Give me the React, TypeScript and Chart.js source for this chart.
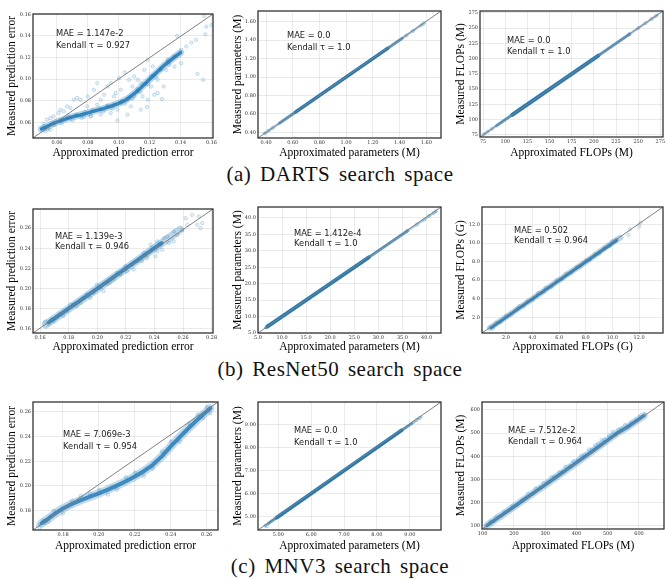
import React, { useEffect, useRef } from "react";
import { Chart, registerables } from "chart.js";

Chart.register(...registerables);

type Pt = [number, number];

// ---------------- (a) DARTS search space ----------------
const dartsErrXRange: Pt = [0.0445, 0.161];
const dartsErrYRange: Pt = [0.0455, 0.1603];
const dartsErrTicks = [0.06, 0.08, 0.1, 0.12, 0.14, 0.16];
const dartsErrBand: Pt[] = [
  [0.05, 0.0538], [0.053, 0.0556], [0.056, 0.0578], [0.06, 0.0603], [0.065, 0.0628],
  [0.07, 0.065], [0.075, 0.0668], [0.08, 0.0688], [0.085, 0.0708], [0.09, 0.0727],
  [0.095, 0.075], [0.1, 0.0776], [0.105, 0.0812], [0.11, 0.0865], [0.115, 0.093],
  [0.12, 0.0998], [0.125, 0.1068], [0.13, 0.1135], [0.135, 0.1192], [0.14, 0.1245],
];
const dartsErrScatter: Pt[] = [
  [0.1552, 0.1585], [0.16, 0.15], [0.156, 0.1415], [0.15, 0.1363], [0.147, 0.1338], [0.1378, 0.14],
  [0.1404, 0.1148], [0.1509, 0.1049], [0.1546, 0.0994], [0.1567, 0.1486], [0.1317, 0.1178],
  [0.1357, 0.1209], [0.1307, 0.1086], [0.1291, 0.0932], [0.128, 0.0815], [0.1252, 0.0994],
  [0.122, 0.1117], [0.1187, 0.1178], [0.1165, 0.1086], [0.1143, 0.0963], [0.1039, 0.1062],
  [0.11, 0.1025], [0.1089, 0.0932], [0.1122, 0.0886], [0.1183, 0.0742], [0.1143, 0.0717],
  [0.1057, 0.0671], [0.0991, 0.0618], [0.0948, 0.0963], [0.1013, 0.0902], [0.097, 0.084],
  [0.0904, 0.0855], [0.0883, 0.0809], [0.0839, 0.0902], [0.08, 0.084], [0.0752, 0.0809],
  [0.0709, 0.0809], [0.073, 0.0825], [0.0665, 0.0748], [0.0622, 0.0717], [0.0611, 0.0686],
  [0.0578, 0.0655], [0.0557, 0.064], [0.0535, 0.0625], [0.0513, 0.0588], [0.0502, 0.0548],
  [0.0524, 0.0517], [0.0557, 0.0532], [0.0665, 0.064], [0.073, 0.0671], [0.0796, 0.0748],
  [0.0861, 0.0763], [0.0926, 0.0748], [0.0948, 0.0686], [0.0883, 0.0671], [0.0817, 0.0655],
  [0.0774, 0.0649], [0.1013, 0.0778], [0.1057, 0.0809], [0.11, 0.084], [0.1122, 0.0994],
  [0.1209, 0.0932], [0.123, 0.0855], [0.1252, 0.0871], [0.1209, 0.1025], [0.1274, 0.1086],
  [0.1328, 0.1132], [0.1361, 0.1117], [0.1404, 0.1271], [0.1437, 0.1302], [0.098, 0.0871],
  [0.0926, 0.0932], [0.0861, 0.0963], [0.1002, 0.1009], [0.1067, 0.0994], [0.1154, 0.084],
  [0.1187, 0.0809], [0.1078, 0.0748], [0.0991, 0.0717], [0.0643, 0.0702], [0.0687, 0.0732],
  [0.0589, 0.0609], [0.0546, 0.0569], [0.0567, 0.0594], [0.052, 0.0565], [0.054, 0.0535],
  [0.058, 0.0575], [0.062, 0.0625], [0.068, 0.0655], [0.072, 0.0665], [0.078, 0.0695],
  [0.083, 0.0715], [0.088, 0.0725], [0.093, 0.0755], [0.097, 0.0765], [0.102, 0.0795],
  [0.107, 0.0825], [0.112, 0.0905], [0.117, 0.0955], [0.122, 0.1035], [0.127, 0.1095],
  [0.132, 0.1165], [0.137, 0.1215], [0.063, 0.059], [0.07, 0.062], [0.076, 0.064],
  [0.082, 0.066], [0.09, 0.07], [0.096, 0.0725], [0.104, 0.077], [0.109, 0.082],
  [0.114, 0.088], [0.119, 0.095], [0.124, 0.102],
];

const dartsParamXRange: Pt = [0.34, 1.71];
const dartsParamYRange: Pt = [0.34, 1.715];
const dartsParamTicks = [0.4, 0.6, 0.8, 1.0, 1.2, 1.4, 1.6];
const dartsParamLight: Pt[] = [[0.39, 0.39], [1.585, 1.585]];
const dartsParamMid: Pt[] = [[0.5, 0.5], [1.42, 1.42]];
const dartsParamDark: Pt[] = [[0.62, 0.62], [1.31, 1.31]];
const dartsParamScatter: Pt[] = [
  [0.39, 0.39], [0.42, 0.42], [0.45, 0.45], [1.45, 1.45], [1.5, 1.5], [1.56, 1.56], [1.58, 1.58],
];

const dartsFlopsRange: Pt = [71.5, 278];
const dartsFlopsTicks = [75, 100, 125, 150, 175, 200, 225, 250, 275];
const dartsFlopsLight: Pt[] = [[76, 76], [272, 272]];
const dartsFlopsMid: Pt[] = [[90, 90], [240, 240]];
const dartsFlopsDark: Pt[] = [[108, 108], [205, 205]];
const dartsFlopsScatter: Pt[] = [
  [76, 76], [80, 80], [85, 85], [240, 240], [250, 250], [258, 258], [265, 265], [270, 270],
];

// ---------------- (b) ResNet50 search space ----------------
const resErrXRange: Pt = [0.155, 0.281];
const resErrYRange: Pt = [0.156, 0.279];
const resErrXTicks = [0.16, 0.18, 0.2, 0.22, 0.24, 0.26, 0.28];
const resErrYTicks = [0.16, 0.18, 0.2, 0.22, 0.24, 0.26];
const resErrHalo: Pt[] = [
  [0.164, 0.1645], [0.17, 0.1702], [0.18, 0.18], [0.19, 0.19], [0.2, 0.2], [0.21, 0.2098],
  [0.22, 0.2198], [0.23, 0.23], [0.24, 0.2402], [0.25, 0.25], [0.258, 0.2585],
];
const resErrCore: Pt[] = [[0.166, 0.1665], [0.2, 0.2], [0.245, 0.2452]];
const resErrScatter: Pt[] = [
  [0.2664, 0.2732], [0.2711, 0.2715], [0.27, 0.2633], [0.2723, 0.26], [0.2735, 0.2649],
  [0.263, 0.2633], [0.2618, 0.2699], [0.2559, 0.2534], [0.2594, 0.2584], [0.2536, 0.2468],
  [0.2501, 0.2452], [0.2466, 0.2501], [0.2442, 0.2436], [0.2419, 0.237], [0.2384, 0.2403],
  [0.2349, 0.2304], [0.2325, 0.2353], [0.2278, 0.2271], [0.2243, 0.2239], [0.2208, 0.2172],
  [0.2161, 0.214], [0.2115, 0.209], [0.2068, 0.2047], [0.2021, 0.2008], [0.1974, 0.1959],
  [0.1927, 0.1942], [0.1881, 0.186], [0.1834, 0.1843], [0.1787, 0.1778], [0.174, 0.1745],
  [0.1694, 0.1679], [0.1658, 0.1646], [0.1635, 0.1672], [0.2536, 0.2567], [0.2489, 0.2518],
  [0.2419, 0.2469], [0.2372, 0.2436], [0.2454, 0.2386], [0.2407, 0.232], [0.2313, 0.2271],
  [0.2255, 0.2189], [0.2196, 0.2222], [0.2138, 0.2156], [0.2091, 0.2057], [0.2044, 0.1975],
  [0.1997, 0.2041], [0.1951, 0.1909], [0.1904, 0.1909], [0.1857, 0.1827], [0.181, 0.1843],
  [0.1764, 0.1728], [0.1717, 0.1712], [0.1682, 0.1695],
];

const resParamXRange: Pt = [5, 43];
const resParamYRange: Pt = [5, 43.3];
const resParamTicks = [5, 10, 15, 20, 25, 30, 35, 40];
const resParamLight: Pt[] = [[6.5, 6.5], [42, 42]];
const resParamMid: Pt[] = [[6.7, 6.7], [36, 36]];
const resParamDark: Pt[] = [[7, 7], [28, 28]];
const resParamScatter: Pt[] = [
  [6.8, 6.7], [7, 7.2], [8, 8], [36, 36.1], [38, 38], [39.5, 39.4], [40.5, 40.6], [41.5, 41.5], [42, 42.1],
];

const resFlopsXRange: Pt = [0.2, 13.8];
const resFlopsYRange: Pt = [0.3, 13.9];
const resFlopsTicks = [2, 4, 6, 8, 10, 12];
const resFlopsHalo: Pt[] = [
  [0.8, 0.85], [2, 2.02], [4, 4.0], [6, 6.02], [8, 8.0], [10, 10.05], [10.6, 10.6],
];
const resFlopsCore: Pt[] = [[0.9, 0.9], [3, 3.0], [6, 6.0], [9, 9.0], [10.3, 10.3]];
const resFlopsScatter: Pt[] = [
  [0.8, 0.9], [1.0, 0.8], [1.3, 1.4], [1.6, 1.5], [2.0, 2.1], [2.4, 2.3], [2.8, 2.9], [3.0, 3.2],
  [3.3, 3.2], [3.6, 3.7], [4.0, 3.9], [4.4, 4.6], [4.8, 4.7], [5.0, 5.2], [5.4, 5.3], [5.8, 6.0],
  [6.2, 6.1], [6.5, 6.7], [6.9, 6.8], [7.3, 7.4], [7.6, 7.5], [8.0, 8.1], [8.3, 8.2], [8.7, 8.8],
  [9.0, 8.9], [9.4, 9.5], [9.8, 9.7], [10.0, 10.2], [10.3, 10.4], [11.2, 10.9], [12.0, 11.8],
  [12.1, 12.2], [11.3, 11.5],
];

// ---------------- (c) MNV3 search space ----------------
const mnvErrXRange: Pt = [0.1633, 0.2663];
const mnvErrYRange: Pt = [0.1643, 0.2681];
const mnvErrTicks = [0.18, 0.2, 0.22, 0.24, 0.26];
const mnvErrBand: Pt[] = [
  [0.168, 0.1697], [0.171, 0.1726], [0.175, 0.177], [0.18, 0.1818], [0.185, 0.1855],
  [0.19, 0.1885], [0.195, 0.1913], [0.2, 0.194], [0.205, 0.197], [0.21, 0.2003],
  [0.215, 0.2038], [0.22, 0.2077], [0.225, 0.212], [0.23, 0.2172], [0.235, 0.224],
  [0.24, 0.2321], [0.245, 0.2397], [0.25, 0.247], [0.255, 0.254], [0.26, 0.2605], [0.262, 0.263],
];
const mnvErrScatter: Pt[] = [
  [0.166, 0.168], [0.167, 0.166], [0.169, 0.172], [0.172, 0.171], [0.19, 0.192], [0.2, 0.197],
  [0.21, 0.197], [0.22, 0.211], [0.23, 0.214], [0.24, 0.236], [0.25, 0.251], [0.255, 0.258],
  [0.26, 0.264], [0.262, 0.259], [0.258, 0.255], [0.245, 0.236], [0.235, 0.228], [0.225, 0.208],
  [0.215, 0.207], [0.205, 0.193], [0.195, 0.194], [0.185, 0.188], [0.18, 0.178], [0.175, 0.18],
  [0.173, 0.175], [0.17, 0.17],
];

const mnvParamXRange: Pt = [4.38, 9.95];
const mnvParamYRange: Pt = [4.43, 9.99];
const mnvParamTicks = [5, 6, 7, 8, 9];
const mnvParamLight: Pt[] = [[4.6, 4.62], [9.35, 9.35]];
const mnvParamMid: Pt[] = [[4.7, 4.72], [9.05, 9.05]];
const mnvParamDark: Pt[] = [[4.95, 4.97], [8.75, 8.76]];
const mnvParamScatter: Pt[] = [[4.6, 4.62], [4.65, 4.6], [9.1, 9.1], [9.2, 9.2], [9.3, 9.3]];

const mnvFlopsXRange: Pt = [98, 680];
const mnvFlopsYRange: Pt = [87, 634];
const mnvFlopsTicks = [100, 200, 300, 400, 500, 600];
const mnvFlopsBand: Pt[] = [
  [115, 103], [150, 136], [200, 183], [250, 230], [300, 277], [350, 325], [400, 373],
  [450, 421], [500, 470], [530, 500], [560, 523], [600, 560], [615, 574],
];
const mnvFlopsScatter: Pt[] = [
  [110, 98], [125, 118], [135, 121], [145, 140], [160, 145], [170, 160], [185, 168], [195, 185],
  [210, 190], [225, 210], [235, 218], [245, 238], [260, 240], [270, 262], [285, 265], [295, 285],
  [310, 290], [320, 310], [330, 312], [345, 330], [355, 332], [365, 355], [380, 358], [390, 378],
  [405, 382], [415, 402], [425, 405], [440, 430], [450, 428], [460, 448], [470, 455], [480, 470],
  [490, 472], [505, 490], [515, 505], [525, 492], [535, 515], [545, 520], [555, 535], [565, 528],
  [575, 545], [590, 555], [605, 570], [620, 580],
];

const captions = ["(a) DARTS search space", "(b) ResNet50 search space", "(c) MNV3 search space"];
const captionTops = [164, 359, 556];

// ---------------- layout / style ----------------
interface Band { pts: Pt[]; width: number; alpha: number }
interface Panel {
  box: [number, number, number, number];
  yTitleX: number;
  xTitleY: number;
  xRange: Pt;
  yRange: Pt;
  xTicks: number[];
  yTicks: number[];
  dec: number;
  xTitle: string;
  yTitle: string;
  bands: Band[];
  scatter: Pt[];
  text: [string, string];
  textPos: [number, number, number];
}

const ERR_X = "Approximated prediction error";
const ERR_Y = "Measured prediction error";
const PAR_X = "Approximated parameters (M)";
const PAR_Y = "Measured parameters (M)";

const panels: Panel[] = [
  {
    box: [33, 14, 213, 138], yTitleX: 12, xTitleY: 153, xRange: dartsErrXRange, yRange: dartsErrYRange,
    xTicks: dartsErrTicks, yTicks: dartsErrTicks, dec: 2, xTitle: ERR_X, yTitle: ERR_Y,
    bands: [{ pts: dartsErrBand, width: 7, alpha: 0.3 }, { pts: dartsErrBand, width: 3.4, alpha: 0.85 }],
    scatter: dartsErrScatter, text: ["MAE = 1.147e-2", "Kendall τ = 0.927"], textPos: [23, 19.5, 31.5],
  },
  {
    box: [258, 11, 441, 138], yTitleX: 237.5, xTitleY: 153, xRange: dartsParamXRange, yRange: dartsParamYRange,
    xTicks: dartsParamTicks, yTicks: dartsParamTicks, dec: 2, xTitle: PAR_X, yTitle: PAR_Y,
    bands: [
      { pts: dartsParamLight, width: 2.5, alpha: 0.35 },
      { pts: dartsParamMid, width: 3, alpha: 0.6 },
      { pts: dartsParamDark, width: 3.5, alpha: 0.9 },
    ],
    scatter: dartsParamScatter, text: ["MAE = 0.0", "Kendall τ = 1.0"], textPos: [29, 25, 36.5],
  },
  {
    box: [480, 11, 663, 137], yTitleX: 461, xTitleY: 153, xRange: dartsFlopsRange, yRange: dartsFlopsRange,
    xTicks: dartsFlopsTicks, yTicks: dartsFlopsTicks, dec: 0, xTitle: "Approximated FLOPs (M)", yTitle: "Measured FLOPs (M)",
    bands: [
      { pts: dartsFlopsLight, width: 2.5, alpha: 0.35 },
      { pts: dartsFlopsMid, width: 3, alpha: 0.6 },
      { pts: dartsFlopsDark, width: 4, alpha: 0.9 },
    ],
    scatter: dartsFlopsScatter, text: ["MAE = 0.0", "Kendall τ = 1.0"], textPos: [27, 29.5, 40.5],
  },
  {
    box: [33, 209, 213, 333], yTitleX: 12, xTitleY: 347, xRange: resErrXRange, yRange: resErrYRange,
    xTicks: resErrXTicks, yTicks: resErrYTicks, dec: 2, xTitle: ERR_X, yTitle: ERR_Y,
    bands: [{ pts: resErrHalo, width: 8, alpha: 0.3 }, { pts: resErrCore, width: 4, alpha: 0.8 }],
    scatter: resErrScatter, text: ["MAE = 1.139e-3", "Kendall τ = 0.946"], textPos: [22, 27.5, 38],
  },
  {
    box: [258, 207, 441, 333], yTitleX: 237.5, xTitleY: 347, xRange: resParamXRange, yRange: resParamYRange,
    xTicks: resParamTicks, yTicks: resParamTicks, dec: 1, xTitle: PAR_X, yTitle: PAR_Y,
    bands: [
      { pts: resParamLight, width: 2.5, alpha: 0.35 },
      { pts: resParamMid, width: 3, alpha: 0.6 },
      { pts: resParamDark, width: 3.8, alpha: 0.9 },
    ],
    scatter: resParamScatter, text: ["MAE = 1.412e-4", "Kendall τ = 1.0"], textPos: [36, 27, 37],
  },
  {
    box: [482, 207, 663, 333], yTitleX: 461, xTitleY: 347, xRange: resFlopsXRange, yRange: resFlopsYRange,
    xTicks: resFlopsTicks, yTicks: resFlopsTicks, dec: 1, xTitle: "Approximated FLOPs (G)", yTitle: "Measured FLOPs (G)",
    bands: [{ pts: resFlopsHalo, width: 6, alpha: 0.3 }, { pts: resFlopsCore, width: 3.2, alpha: 0.85 }],
    scatter: resFlopsScatter, text: ["MAE = 0.502", "Kendall τ = 0.964"], textPos: [32, 24, 34],
  },
  {
    box: [33, 402, 218, 530], yTitleX: 12, xTitleY: 546, xRange: mnvErrXRange, yRange: mnvErrYRange,
    xTicks: mnvErrTicks, yTicks: mnvErrTicks, dec: 2, xTitle: ERR_X, yTitle: ERR_Y,
    bands: [{ pts: mnvErrBand, width: 8.5, alpha: 0.28 }, { pts: mnvErrBand, width: 4, alpha: 0.8 }],
    scatter: mnvErrScatter, text: ["MAE = 7.069e-3", "Kendall τ = 0.954"], textPos: [30, 32.5, 44.5],
  },
  {
    box: [258, 402, 441, 530], yTitleX: 237.5, xTitleY: 546, xRange: mnvParamXRange, yRange: mnvParamYRange,
    xTicks: mnvParamTicks, yTicks: mnvParamTicks, dec: 2, xTitle: PAR_X, yTitle: PAR_Y,
    bands: [
      { pts: mnvParamLight, width: 2.5, alpha: 0.35 },
      { pts: mnvParamMid, width: 3, alpha: 0.6 },
      { pts: mnvParamDark, width: 3.8, alpha: 0.9 },
    ],
    scatter: mnvParamScatter, text: ["MAE = 0.0", "Kendall τ = 1.0"], textPos: [36, 29, 41],
  },
  {
    box: [482, 402, 664, 529], yTitleX: 461, xTitleY: 546, xRange: mnvFlopsXRange, yRange: mnvFlopsYRange,
    xTicks: mnvFlopsTicks, yTicks: mnvFlopsTicks, dec: 0, xTitle: "Approximated FLOPs (M)", yTitle: "Measured FLOPs (M)",
    bands: [{ pts: mnvFlopsBand, width: 7.5, alpha: 0.28 }, { pts: mnvFlopsBand, width: 3.5, alpha: 0.8 }],
    scatter: mnvFlopsScatter, text: ["MAE = 7.512e-2", "Kendall τ = 0.964"], textPos: [26, 28.5, 40],
  },
];

const TITLE_SIZE = 11.5;
const TITLE_LH = TITLE_SIZE * 1.2;
const BLUE = "31,119,180";

function geom(p: Panel) {
  const [L, T, R, B] = p.box;
  const left = Math.round(p.yTitleX - 8);
  const top = T - 8;
  const right = R + 7;
  const bottom = Math.round(p.xTitleY + 8);
  return {
    left, top, w: right - left, h: bottom - top,
    yScaleW: L - left, xScaleH: bottom - B, padTop: T - top, padRight: right - R,
    yTitlePad: p.yTitleX - left - TITLE_LH / 2,
    xTitlePad: bottom - p.xTitleY - TITLE_LH / 2,
  };
}

const toXY = (pts: Pt[]) => pts.map(([x, y]) => ({ x, y }));

function PanelChart({ p }: { p: Panel }) {
  const ref = useRef<HTMLCanvasElement>(null);
  const g = geom(p);
  useEffect(() => {
    const nb = p.bands.length;
    const datasets: any[] = [
      {
        data: [{ x: p.xRange[0], y: p.yRange[0] }, { x: p.xRange[1], y: p.yRange[1] }],
        showLine: true, borderColor: "#808080", borderWidth: 1, pointRadius: 0, order: 0, clip: 0,
      },
      ...p.bands.map((b, i) => ({
        data: toXY(b.pts), showLine: true, borderColor: `rgba(${BLUE},${b.alpha})`, borderWidth: b.width,
        borderCapStyle: "round", borderJoinStyle: "round", pointRadius: 0, tension: 0, order: nb - i, clip: 0,
      })),
      {
        data: toXY(p.scatter), pointRadius: 1.7, pointBorderWidth: 0.6,
        backgroundColor: `rgba(${BLUE},0.1)`, borderColor: `rgba(${BLUE},0.38)`,
        pointBackgroundColor: `rgba(${BLUE},0.1)`, pointBorderColor: `rgba(${BLUE},0.38)`,
        order: nb + 1, clip: 0,
      },
    ];
    const tickFont = { family: "'DejaVu Serif'", size: 5 };
    const titleFont = { family: "'Liberation Serif'", size: TITLE_SIZE };
    const fmt = (v: any) => Number(v).toFixed(p.dec);
    const overlay = {
      id: "overlay",
      afterDatasetsDraw(chart: any) {
        const { ctx, chartArea } = chart;
        const { left, top, right, bottom } = chartArea;
        ctx.save();
        ctx.strokeStyle = "#333";
        ctx.lineWidth = 1.3;
        ctx.strokeRect(left, top, right - left, bottom - top);
        ctx.fillStyle = "#1a1a1a";
        ctx.font = "8.3px 'DejaVu Sans'";
        ctx.textBaseline = "middle";
        ctx.textAlign = "left";
        ctx.fillText(p.text[0], left + p.textPos[0], top + p.textPos[1]);
        ctx.fillText(p.text[1], left + p.textPos[0], top + p.textPos[2]);
        ctx.restore();
      },
    };
    const chart = new Chart(ref.current as HTMLCanvasElement, {
      type: "scatter",
      data: { datasets },
      options: {
        animation: false,
        responsive: false,
        maintainAspectRatio: false,
        events: [],
        layout: { padding: { left: 0, top: g.padTop, right: g.padRight, bottom: 0 } },
        plugins: { legend: { display: false }, tooltip: { enabled: false } },
        scales: {
          x: {
            type: "linear", min: p.xRange[0], max: p.xRange[1],
            afterBuildTicks: (s: any) => { s.ticks = p.xTicks.map((v) => ({ value: v })); },
            afterFit: (s: any) => {
              s.height = g.xScaleH; s.paddingLeft = 0; s.paddingRight = 0; s.paddingTop = 0; s.paddingBottom = 0;
            },
            ticks: { font: tickFont, color: "#333", padding: 2, maxRotation: 0, autoSkip: false, callback: fmt },
            grid: { color: "rgba(0,0,0,0.1)", lineWidth: 0.8, drawTicks: false },
            border: { display: false },
            title: { display: true, text: p.xTitle, font: titleFont, color: "#000", padding: { top: 0, bottom: g.xTitlePad } },
          },
          y: {
            type: "linear", min: p.yRange[0], max: p.yRange[1],
            afterBuildTicks: (s: any) => { s.ticks = p.yTicks.map((v) => ({ value: v })); },
            afterFit: (s: any) => {
              s.width = g.yScaleW; s.paddingLeft = 0; s.paddingRight = 0; s.paddingTop = 0; s.paddingBottom = 0;
            },
            ticks: { font: tickFont, color: "#333", padding: 2, autoSkip: false, callback: fmt },
            grid: { color: "rgba(0,0,0,0.1)", lineWidth: 0.8, drawTicks: false },
            border: { display: false },
            title: { display: true, text: p.yTitle, font: titleFont, color: "#000", padding: { top: g.yTitlePad, bottom: 0 } },
          },
        },
      } as any,
      plugins: [overlay],
    });
    return () => chart.destroy();
  }, []);
  return (
    <canvas
      ref={ref}
      width={g.w}
      height={g.h}
      style={{ position: "absolute", left: g.left, top: g.top, width: g.w, height: g.h }}
    />
  );
}

export default function App() {
  return (
    <div style={{ position: "absolute", left: 0, top: 0, width: 665, height: 579, overflow: "hidden", background: "#fff" }}>
      {panels.map((p, i) => (
        <PanelChart key={i} p={p} />
      ))}
      {captions.map((c, i) => (
        <div
          key={c}
          style={{
            position: "absolute", left: 0, width: 680, top: captionTops[i], textAlign: "center",
            fontFamily: "'Liberation Serif', serif", fontSize: 21, lineHeight: "21px",
            wordSpacing: "3px", letterSpacing: "0.5px", color: "#111", whiteSpace: "nowrap",
          }}
        >
          {c}
        </div>
      ))}
    </div>
  );
}
